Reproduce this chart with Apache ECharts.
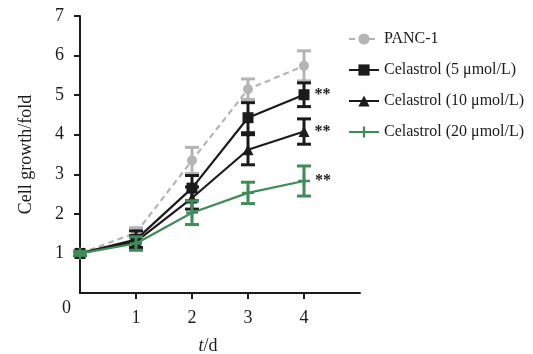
<!DOCTYPE html>
<html>
<head>
<meta charset="utf-8">
<script src="https://cdn.jsdelivr.net/npm/echarts@6/dist/echarts.min.js"></script>
<style>
  html, body { margin: 0; padding: 0; background: #fff; }
  #chart { width: 533px; height: 354px; }
</style>
</head>
<body>
<div id="chart"></div>
<script>
// days
const days = [0, 1, 2, 3, 4];
const xTicks = [1, 2, 3, 4];
const yTicks = [1, 2, 3, 4, 5, 6, 7];

const seriesNames = ['PANC-1', 'Celastrol (5 μmol/L)', 'Celastrol (10 μmol/L)', 'Celastrol (20 μmol/L)'];

// means
const panc1 = [1.0, 1.52, 3.35, 5.15, 5.74];
const cel5 = [1.0, 1.35, 2.65, 4.43, 5.01];
const cel10 = [1.0, 1.30, 2.40, 3.62, 4.08];
const cel20 = [1.0, 1.25, 2.03, 2.53, 2.83];

// error bar half widths
const panc1Err = [0.05, 0.13, 0.33, 0.26, 0.38];
const cel5Err = [0.05, 0.22, 0.32, 0.38, 0.30];
const cel10Err = [0.05, 0.15, 0.28, 0.38, 0.32];
const cel20Err = [0.05, 0.17, 0.30, 0.27, 0.38];

const sigMark = [null, '**', '**', '**'];

const colors = ['#b4b4b6', '#1b1b1b', '#1b1b1b', '#3f8c57'];
const symbols = ['circle', 'rect', 'triangle', 'path://M4,0H6V4H10V6H6V10H4V6H0V4H4Z'];
const symbolSizes = [10, 11, 11, 12];

const means = [panc1, cel5, cel10, cel20];
const errs = [panc1Err, cel5Err, cel10Err, cel20Err];

const serif = '"Liberation Serif", "Times New Roman", serif';

const chart = echarts.init(document.getElementById('chart'));

const series = [];
means.forEach((vals, i) => {
  const color = colors[i];
  series.push({
    name: seriesNames[i] + ' err',
    type: 'custom',
    z: 2 + i,
    silent: true,
    data: days.map((d, k) => [d, vals[k] - errs[i][k], vals[k] + errs[i][k]]),
    renderItem: (params, api) => {
      const x = api.value(0);
      const lo = api.coord([x, api.value(1)]);
      const hi = api.coord([x, api.value(2)]);
      const w = 7;
      const st = { stroke: color, lineWidth: 3 };
      return {
        type: 'group',
        children: [
          { type: 'line', shape: { x1: lo[0], y1: lo[1], x2: hi[0], y2: hi[1] }, style: st },
          { type: 'line', shape: { x1: lo[0] - w, y1: lo[1], x2: lo[0] + w, y2: lo[1] }, style: st },
          { type: 'line', shape: { x1: hi[0] - w, y1: hi[1], x2: hi[0] + w, y2: hi[1] }, style: st }
        ]
      };
    }
  });
  series.push({
    name: seriesNames[i],
    type: 'line',
    z: 2 + i,
    data: days.map((d, k) => {
      const item = { value: [d, vals[k]] };
      if (k === days.length - 1 && sigMark[i]) {
        item.label = {
          show: true,
          formatter: sigMark[i],
          position: 'right',
          distance: 5,
          color: '#1b1b1b',
          fontFamily: serif,
          fontSize: 16,
          fontWeight: 'bold'
        };
      }
      return item;
    }),
    symbol: symbols[i],
    symbolSize: symbolSizes[i],
    showAllSymbol: true,
    itemStyle: { color: color },
    lineStyle: { color: color, width: 2.2, type: i === 0 ? [6, 4] : 'solid' }
  });
});

const option = {
  animation: false,
  grid: { left: 80, top: 16, right: 173, bottom: 61, containLabel: false, outerBoundsMode: 'none' },
  legend: {
    data: seriesNames,
    orient: 'vertical',
    left: 343,
    top: 26,
    itemWidth: 30,
    itemHeight: 14,
    itemGap: 15,
    textStyle: { fontFamily: serif, fontSize: 16, color: '#1b1b1b' }
  },
  xAxis: {
    type: 'value',
    min: 0,
    max: 5,
    interval: 1,
    name: '{i|t}/d',
    nameLocation: 'middle',
    nameGap: 44,
    nameTextStyle: {
      fontFamily: serif, fontSize: 18, color: '#1b1b1b', padding: [0, 24, 0, 0],
      rich: { i: { fontFamily: serif, fontSize: 18, fontStyle: 'italic', color: '#1b1b1b' } }
    },
    splitLine: { show: false },
    axisLine: { lineStyle: { color: '#1b1b1b', width: 2 } },
    axisTick: { customValues: xTicks, length: 6, lineStyle: { color: '#1b1b1b', width: 2 } },
    axisLabel: { customValues: xTicks, margin: 16, fontFamily: serif, fontSize: 18, color: '#1b1b1b' }
  },
  yAxis: {
    type: 'value',
    min: 0,
    max: 7,
    interval: 1,
    name: 'Cell growth/fold',
    nameLocation: 'middle',
    nameGap: 45,
    nameTextStyle: { fontFamily: serif, fontSize: 18, color: '#1b1b1b' },
    splitLine: { show: false },
    axisLine: { show: true, lineStyle: { color: '#1b1b1b', width: 2 } },
    axisTick: { show: true, customValues: yTicks, length: 6, lineStyle: { color: '#1b1b1b', width: 2 } },
    axisLabel: { customValues: yTicks, margin: 16, fontFamily: serif, fontSize: 18, color: '#1b1b1b' }
  },
  graphic: [{
    type: 'text',
    left: 62,
    top: 299,
    style: { text: '0', font: '18px ' + serif, fill: '#1b1b1b' }
  }],
  series: series
};

chart.setOption(option);
</script>
</body>
</html>
